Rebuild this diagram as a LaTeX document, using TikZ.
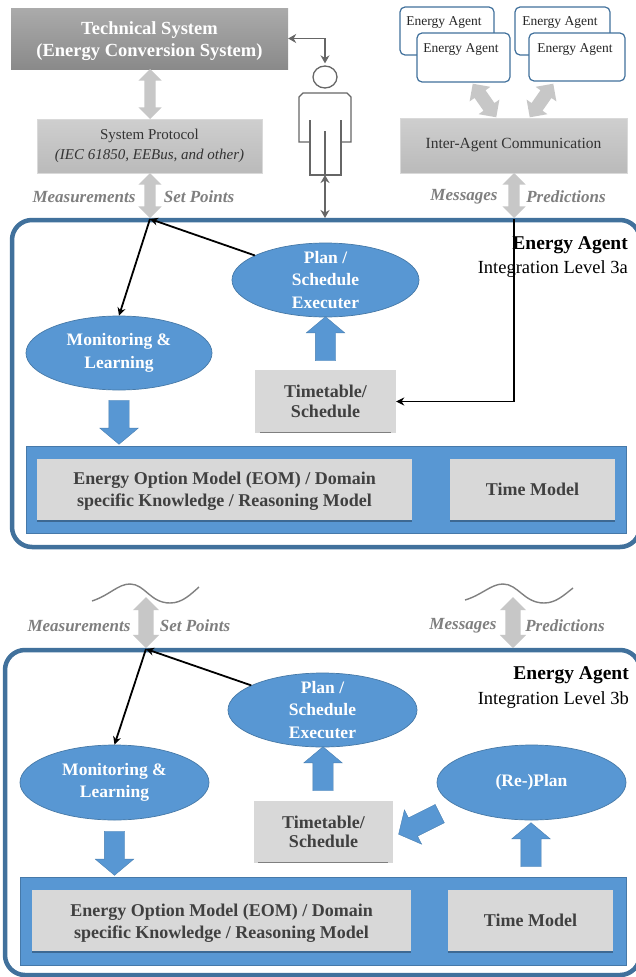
\documentclass[tikz,border=0pt]{standalone}
\usepackage{fontspec}
\setmainfont{Liberation Serif}
\usetikzlibrary{shapes.geometric,shapes.arrows,arrows.meta,shadows}
\definecolor{blueF}{HTML}{5897D3}
\definecolor{blueD}{HTML}{41719C}
\definecolor{boxG}{HTML}{D8D8D8}
\definecolor{lineG}{HTML}{7F7F7F}
\definecolor{txtD}{HTML}{404040}
\tikzset{
  frame/.style={draw=blueD,line width=4.5pt,rounded corners=20pt},
  band/.style={rectangle,fill=blueF,draw=blueF!80!black,line width=.5pt,inner sep=0},
  modelbox/.style={rectangle,fill=boxG,inner sep=0,
     drop shadow={shadow xshift=0pt,shadow yshift=-1.5pt,opacity=.3,fill=black}},
  modeltxt/.style={inner sep=0,text=txtD,align=center,font=\bfseries\fontsize{18}{22}\selectfont},
  ttbox/.style={rectangle,fill=boxG,inner sep=0,text=txtD,align=center,
     font=\bfseries\fontsize{18}{19.5}\selectfont},
  ell/.style={ellipse,fill=blueF,draw=blueD!80!blueF,line width=.7pt,inner sep=0},
  elltxt/.style={text=white,align=center,font=\bfseries\fontsize{17.5}{22.5}\selectfont,inner sep=0},
  techbox/.style={rectangle,top color=black!33,bottom color=black!46,inner sep=0,
     drop shadow={shadow xshift=0pt,shadow yshift=-1pt,opacity=.3,fill=black}},
  techtxt/.style={inner sep=0,text=white,align=center,font=\bfseries\fontsize{18.5}{22}\selectfont},
  protbox/.style={rectangle,top color=black!19,bottom color=black!27,draw=black!15,line width=.5pt,inner sep=0,
     text=black!80,align=center,font=\fontsize{15}{20}\selectfont},
  agentbox/.style={rectangle,rounded corners=5pt,fill=white,draw=blueD,line width=1.2pt,inner sep=0},
  agenttxt/.style={text=black!85,inner sep=0,font=\fontsize{13.5}{15}\selectfont},
  lab/.style={text=lineG,inner sep=0,font=\bfseries\itshape\fontsize{17}{18}\selectfont},
  titlea/.style={anchor=east,inner sep=0,text=black,font=\bfseries\fontsize{19.5}{20}\selectfont},
  titleb/.style={anchor=east,inner sep=0,text=black,font=\fontsize{18.5}{20}\selectfont},
  fatblue/.style={single arrow,fill=blueF,draw=blueD!60!blueF,line width=.4pt,inner xsep=0pt,inner ysep=10pt,
     minimum width=38pt,minimum height=44pt,single arrow head extend=9pt,single arrow tip angle=100},
  fatgrayA/.style={double arrow,fill=black!22,draw=none,inner xsep=0pt,inner ysep=5.5pt,
     minimum width=23pt,double arrow head extend=6pt},
  fatgrayB/.style={double arrow,fill=black!22,draw=none,inner xsep=0pt,inner ysep=7.5pt,
     minimum width=26pt,double arrow head extend=5.5pt},
  blk/.style={draw=black,line width=1.8pt,-{Stealth[length=8pt,width=8pt]}},
  humanline/.style={draw=black!60,line width=1.3pt,{Stealth[length=8pt,width=9pt]}-{Stealth[length=8pt,width=9pt]}},
  person/.style={draw=black!60,line width=1.3pt},
  wave/.style={draw=black!50,line width=1.4pt}
}
\begin{document}
\begin{tikzpicture}[x=1pt,y=-1pt]
\clip (0,0) rectangle (636,977);
\fill[white] (0,0) rectangle (636,977);

% ---------- upper part ----------
\draw[frame] (12,220) rectangle (640,547);
\node[techbox,minimum width=277pt,minimum height=61pt] (tech) at (149.5,38.5) {};
\node[techtxt] at (149.5,41) {Technical System\\(Energy Conversion System)};
\node[protbox,minimum width=225pt,minimum height=54pt] (prot) at (149.5,146) {System Protocol\\\textit{(IEC 61850, EEBus, and other)}};
\node[protbox,minimum width=227pt,minimum height=55pt,font=\fontsize{15.5}{20}\selectfont] (inter) at (513.5,145.5) {Inter-Agent Communication};

\node[agentbox,minimum width=94pt,minimum height=48pt] (a1) at (447,31) {};
\node[agentbox,minimum width=95pt,minimum height=48pt] (a3) at (562.5,31) {};
\node[agentbox,minimum width=93pt,minimum height=49pt] (a2) at (463.5,57.5) {};
\node[agentbox,minimum width=96pt,minimum height=48pt] (a4) at (577,57) {};
\node[agenttxt] at (444,23) {Energy Agent};
\node[agenttxt] at (560,23) {Energy Agent};
\node[agenttxt] at (461,49) {Energy Agent};
\node[agenttxt] at (575,49) {Energy Agent};

\node[fatgrayA,minimum height=50pt,rotate=90] at (150,94) {};
\node[fatgrayA,minimum height=45pt,rotate=90] at (150,195.5) {};
\node[fatgrayA,minimum height=45pt,rotate=90] at (514,195.5) {};
\node[fatgrayA,minimum height=41pt,inner ysep=6.5pt,minimum width=25pt,rotate=-55] at (484.5,100.5) {};
\node[fatgrayA,minimum height=41pt,inner ysep=6.5pt,minimum width=25pt,rotate=55] at (541.5,100.5) {};

\node[lab] at (84,197) {Measurements};
\node[lab] at (199,197) {Set Points};
\node[lab] at (464,197) {Messages};
\node[lab] at (566,197) {Predictions};

% person
\node[ellipse,person,fill=white,minimum width=24pt,minimum height=22pt,inner sep=0] (head) at (325,77) {};
\draw[person] (310,142)--(299,142)--(299,97)--(303,93)--(347,93)--(351,97)--(351,142)--(341,142);
\draw[person] (310,120)--(310,175)--(341,175)--(341,120);
\draw[person] (325,131)--(325,175);
\coordinate (feet) at (325,175);
\coordinate (frameTop) at (325,218);
\draw[humanline] (tech.east) -| ([yshift=2pt]head.north);
\draw[humanline] (feet) -- (frameTop);

\node[ell,minimum width=187pt,minimum height=74pt] (planA) at (325.5,280) {};
\node[elltxt] at (planA) {Plan /\\Schedule\\Executer};
\node[ell,minimum width=186pt,minimum height=74pt] (monA) at (119,353) {};
\node[elltxt] at (monA) {Monitoring \&\\Learning};
\node[ttbox,minimum width=141pt,minimum height=63pt] (ttA) at (325.5,401.5) {Timetable/\\Schedule};
\draw[lineG,line width=1pt] (260,432) -- (391,432);

\node[fatblue,rotate=90] at (325.5,343) {};
\node[fatblue,rotate=-90] at (119,418) {};

\node[band,minimum width=600pt,minimum height=87pt] (bandA) at (326,489.5) {};
\node[modelbox,minimum width=375pt,minimum height=61pt] (eomA) at (224.5,489.5) {};
\node[modeltxt] at (224.5,491) {Energy Option Model (EOM) / Domain\\specific Knowledge / Reasoning Model};
\node[modelbox,minimum width=165pt,minimum height=61pt] (timeA) at (532.5,489.5) {};
\node[modeltxt] at (timeA) {Time Model};

\coordinate (hubA) at (150,219);
\coordinate (msgA) at (514,219);
\draw[blk] (planA) -- (hubA);
\draw[blk] (hubA) -- (monA.north);
\draw[blk] (msgA) |- (ttA.east);

\node[titlea] at (628,245) {Energy Agent};
\node[titleb] at (628,269) {Integration Level 3a};

% ---------- lower part ----------
\draw[frame] (5,650) rectangle (640,975);
\draw[wave] (92,601) .. controls (110,595) and (118,584) .. (130,584) .. controls (145,584) and (150,603) .. (170,603) .. controls (182,603) and (190,595) .. (199,587);
\draw[wave] (465,600) .. controls (482,595) and (491,584) .. (503,584) .. controls (518,584) and (524,603) .. (544,603) .. controls (556,603) and (564,595) .. (573,588);

\node[fatgrayB,minimum height=51pt,rotate=90] at (146,622.5) {};
\node[fatgrayB,minimum height=51pt,rotate=90] at (513,622.5) {};
\node[lab] at (79,626) {Measurements};
\node[lab] at (195,626) {Set Points};
\node[lab] at (463,626) {Messages};
\node[lab] at (565,626) {Predictions};

\node[ell,minimum width=189pt,minimum height=74pt] (planB) at (322.5,710) {};
\node[elltxt] at (planB) {Plan /\\Schedule\\Executer};
\node[ell,minimum width=189pt,minimum height=75pt] (monB) at (114.5,782.5) {};
\node[elltxt] at (monB) {Monitoring \&\\Learning};
\node[ell,minimum width=189pt,minimum height=75pt] (replan) at (531.5,782.5) {};
\node[elltxt] at (replan) {(Re-)Plan};
\node[ttbox,minimum width=139pt,minimum height=62pt] (ttB) at (323.5,832) {Timetable/\\Schedule};
\draw[lineG,line width=1pt] (258,862) -- (388,862);

\node[fatblue,rotate=90] at (323,773) {};
\node[fatblue,rotate=-90] at (114.5,849) {};
\node[fatblue,rotate=90] at (531,849) {};
\node[fatblue,rotate=206.6,minimum height=46pt] at (423,822) {};

\node[band,minimum width=606pt,minimum height=88pt] (bandB) at (323,921) {};
\node[modelbox,minimum width=379pt,minimum height=61pt] (eomB) at (221.5,920.5) {};
\node[modeltxt] at (221.5,923) {Energy Option Model (EOM) / Domain\\specific Knowledge / Reasoning Model};
\node[modelbox,minimum width=165pt,minimum height=61pt] (timeB) at (530.5,920.5) {};
\node[modeltxt] at (timeB) {Time Model};

\coordinate (hubB) at (146,649);
\draw[blk] (planB) -- (hubB);
\draw[blk] (hubB) -- (monB.north);

\node[titlea] at (629,675) {Energy Agent};
\node[titleb] at (629,700) {Integration Level 3b};
\end{tikzpicture}
\end{document}
